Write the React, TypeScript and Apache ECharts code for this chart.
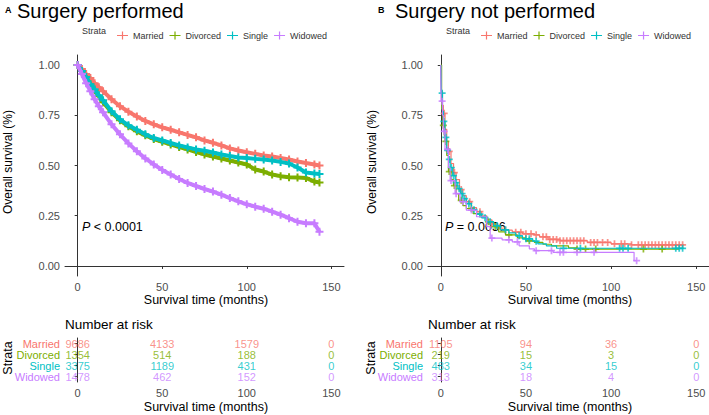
import React, { useEffect, useRef } from 'react';
import * as echarts from 'echarts';

const strata = ['Married', 'Divorced', 'Single', 'Widowed'];
const colors = ['#F8766D', '#7CAE00', '#00BFC4', '#C77CFF'];

// Panel A: surgery performed (survival read every few months)
const monthsA = [0, 2.5, 5, 7.5, 10, 12.5, 15, 20, 25, 30, 35, 40, 45, 50, 55, 60, 65, 70, 75, 80, 85, 90, 95, 100, 105, 110, 115, 120, 125, 130, 135, 140, 143];
const marriedA = [1.0, 0.98, 0.955, 0.935, 0.91, 0.89, 0.87, 0.83, 0.795, 0.768, 0.744, 0.722, 0.705, 0.69, 0.678, 0.665, 0.652, 0.64, 0.625, 0.613, 0.6, 0.585, 0.575, 0.566, 0.558, 0.55, 0.545, 0.537, 0.53, 0.52, 0.512, 0.505, 0.5];
const divorcedA = [1.0, 0.97, 0.94, 0.905, 0.875, 0.845, 0.815, 0.765, 0.725, 0.695, 0.67, 0.65, 0.632, 0.618, 0.605, 0.592, 0.58, 0.567, 0.555, 0.545, 0.535, 0.525, 0.515, 0.505, 0.48, 0.47, 0.455, 0.447, 0.442, 0.44, 0.438, 0.42, 0.415];
const singleA = [1.0, 0.97, 0.94, 0.905, 0.88, 0.85, 0.825, 0.77, 0.73, 0.7, 0.678, 0.655, 0.637, 0.625, 0.612, 0.6, 0.59, 0.58, 0.573, 0.565, 0.555, 0.547, 0.54, 0.537, 0.533, 0.53, 0.525, 0.518, 0.51, 0.49, 0.465, 0.46, 0.458];
const widowedA = [1.0, 0.955, 0.91, 0.87, 0.83, 0.795, 0.765, 0.705, 0.655, 0.61, 0.571, 0.535, 0.505, 0.478, 0.455, 0.433, 0.413, 0.398, 0.383, 0.37, 0.355, 0.338, 0.322, 0.307, 0.295, 0.285, 0.27, 0.255, 0.238, 0.22, 0.213, 0.212, 0.17];

// Panel B: surgery not performed (step points)
const marriedBT = [0, 0.3, 1, 1.5, 2.5, 3.5, 4.5, 6, 7.5, 9, 11, 13, 15, 18, 21, 24, 27, 30, 33, 36, 42, 48, 55, 58, 63, 70, 86, 100, 112, 143];
const marriedBS = [1, 0.87, 0.8, 0.76, 0.68, 0.62, 0.57, 0.51, 0.465, 0.43, 0.38, 0.35, 0.32, 0.29, 0.27, 0.25, 0.23, 0.21, 0.19, 0.178, 0.168, 0.16, 0.155, 0.145, 0.132, 0.126, 0.117, 0.11, 0.105, 0.102];
const divorcedBT = [0, 0.5, 1, 2, 2.5, 3.5, 4.5, 6, 7.5, 9, 10.5, 13, 15, 19, 23, 27, 31, 34, 38, 45, 50, 55, 60, 65, 75, 80, 140];
const divorcedBS = [1, 0.78, 0.7, 0.65, 0.62, 0.55, 0.47, 0.43, 0.4, 0.36, 0.327, 0.3, 0.286, 0.26, 0.245, 0.22, 0.196, 0.17, 0.155, 0.14, 0.125, 0.117, 0.108, 0.1, 0.09, 0.084, 0.084];
const singleBT = [0, 0.3, 1, 1.6, 2.5, 3.5, 4.5, 5.5, 7, 8.5, 10, 11.5, 13, 15, 18, 21, 24, 27, 31, 35, 40, 44, 48, 54, 57, 62, 68, 143];
const singleBS = [1, 0.86, 0.77, 0.72, 0.64, 0.575, 0.53, 0.49, 0.45, 0.415, 0.385, 0.36, 0.335, 0.31, 0.28, 0.258, 0.24, 0.22, 0.2, 0.18, 0.165, 0.15, 0.135, 0.123, 0.11, 0.1, 0.088, 0.088];
const widowedBT = [0, 0.2, 1, 1.5, 2.5, 4.5, 5.5, 8.4, 11.3, 15, 21, 27, 29, 36, 42, 46, 52, 55, 66, 113, 113.5, 115];
const widowedBS = [1, 0.82, 0.75, 0.67, 0.58, 0.49, 0.425, 0.36, 0.32, 0.278, 0.245, 0.196, 0.139, 0.13, 0.12, 0.1, 0.085, 0.076, 0.068, 0.068, 0.026, 0.026];

// Panel B censor times
const marriedBC = [2, 5, 8, 12, 17, 23, 30, 38, 44, 47, 50, 53, 56, 60, 62, 64, 66, 68, 70, 72, 74, 76, 78, 80, 82, 84, 88, 90, 92, 95, 98, 102, 106, 108, 112, 116, 118, 120, 122, 124, 126, 128, 130, 132, 134, 136, 138, 140, 142];
const divorcedBC = [1.5, 3, 5, 8, 12, 18, 28, 32, 40, 52, 80, 85, 91, 119, 130];
const singleBC = [0.8, 1.8, 3, 4, 5, 6.2, 7.5, 9, 10.8, 12.5, 14, 16.5, 19.5, 23, 26, 29, 33, 38, 46, 50, 52, 56, 72, 82, 105, 107, 110, 138, 140, 142];
const widowedBC = [0.8, 2, 4, 6, 9, 13, 18, 30, 40, 45, 56, 65, 70, 72, 80, 90, 115];

// Number at risk
const riskTimes = [0, 50, 100, 150];
const riskA_Married = [9686, 4133, 1579, 0];
const riskA_Divorced = [1354, 514, 188, 0];
const riskA_Single = [3375, 1189, 431, 0];
const riskA_Widowed = [1478, 462, 152, 0];
const riskB_Married = [1105, 94, 36, 0];
const riskB_Divorced = [219, 15, 3, 0];
const riskB_Single = [483, 34, 15, 0];
const riskB_Widowed = [313, 18, 4, 0];

const xTicks = [0, 50, 100, 150];
const yTicks = [0, 0.25, 0.5, 0.75, 1];

const FONT = "'Liberation Sans', Arial, Helvetica, sans-serif";
const PLUS = 'path://M0,3H8V5H0Z M3,0H5V8H3Z';
const LEG = 'path://M0,4.4H11V5.6H0Z M4.9,1H6.1V9H4.9Z';
const AX = '#333333';
const TICKTXT = '#4d4d4d';

function stepAt(ts: number[], ss: number[], t: number) {
  let v = ss[0];
  for (let i = 0; i < ts.length; i++) if (ts[i] <= t) v = ss[i];
  return v;
}

function xAxisCfg(gridIndex: number) {
  return {
    gridIndex, type: 'value', min: -7.5, max: 157.5,
    axisLine: { lineStyle: { color: AX, width: 1 } },
    axisTick: { customValues: xTicks, length: 3, lineStyle: { color: AX } },
    axisLabel: { customValues: xTicks, fontSize: 11, color: TICKTXT, margin: 5, fontFamily: FONT },
    splitLine: { show: false },
  };
}
function yAxisKM(gridIndex: number) {
  return {
    gridIndex, type: 'value', min: -0.05, max: 1.05,
    axisLine: { show: true, lineStyle: { color: AX, width: 1 } },
    axisTick: { show: true, customValues: yTicks, length: 3, lineStyle: { color: AX } },
    axisLabel: { customValues: yTicks, fontSize: 11, color: TICKTXT, margin: 5, fontFamily: FONT, formatter: (v: number) => v.toFixed(2) },
    splitLine: { show: false },
  };
}
function yAxisRisk(gridIndex: number) {
  return {
    gridIndex, type: 'category', data: strata, inverse: true,
    axisLine: { show: true, lineStyle: { color: AX, width: 1 } },
    axisTick: { show: true, alignWithLabel: true, interval: 0, length: 3, lineStyle: { color: AX } },
    axisLabel: { interval: 0, fontSize: 11, margin: 5, fontFamily: FONT, color: (_v: any, i: number) => colors[i] },
    splitLine: { show: false },
  };
}

export default function App() {
  const ref = useRef<HTMLDivElement>(null);
  useEffect(() => {
    if (!ref.current) return;
    const chart = echarts.init(ref.current, null, { renderer: 'svg' });

    const seriesA = [marriedA, divorcedA, singleA, widowedA];
    const seriesBT = [marriedBT, divorcedBT, singleBT, widowedBT];
    const seriesBS = [marriedBS, divorcedBS, singleBS, widowedBS];
    const seriesBC = [marriedBC, divorcedBC, singleBC, widowedBC];
    const riskA = [riskA_Married, riskA_Divorced, riskA_Single, riskA_Widowed];
    const riskB = [riskB_Married, riskB_Divorced, riskB_Single, riskB_Widowed];

    const series: any[] = [];
    strata.forEach((name, i) => {
      series.push({
        name, type: 'line', xAxisIndex: 0, yAxisIndex: 0,
        data: monthsA.map((m, k) => [m, seriesA[i][k]]),
        showSymbol: true, symbol: PLUS, symbolSize: 8,
        lineStyle: { color: colors[i], width: 4 },
        itemStyle: { color: colors[i] },
        z: 2 + i,
      });
    });
    strata.forEach((name, i) => {
      series.push({
        name, type: 'line', xAxisIndex: 1, yAxisIndex: 1, step: 'end',
        data: seriesBT[i].map((t, k) => [t, seriesBS[i][k]]),
        showSymbol: false, symbol: 'none',
        lineStyle: { color: colors[i], width: 1.2 },
        itemStyle: { color: colors[i] },
        z: 2 + i,
      });
      series.push({
        name, type: 'scatter', xAxisIndex: 1, yAxisIndex: 1,
        data: seriesBC[i].map((t) => [t, stepAt(seriesBT[i], seriesBS[i], t)]),
        symbol: PLUS, symbolSize: 7,
        itemStyle: { color: colors[i] },
        z: 2 + i,
      });
    });
    [riskA, riskB].forEach((risk, p) => {
      strata.forEach((name, i) => {
        series.push({
          type: 'scatter', xAxisIndex: 2 + p, yAxisIndex: 2 + p,
          data: riskTimes.map((t, k) => [t, i, risk[i][k]]),
          symbolSize: 1, itemStyle: { color: 'transparent' },
          label: {
            show: true, position: 'inside', fontSize: 11, fontFamily: FONT, color: colors[i],
            formatter: (prm: any) => String(prm.value[2]),
          },
        });
      });
    });

    const legendData = strata.map((n) => ({ name: n, icon: LEG }));
    const txt = (x: number, y: number, text: string, size: number, extra: any = {}) => ({
      type: 'text', x, y, rotation: extra.rotation || 0,
      style: {
        text, fontSize: size, fontFamily: FONT, fill: extra.fill || '#000',
        align: extra.align || 'left', verticalAlign: 'middle', fontWeight: extra.bold ? 'bold' : 'normal',
        rich: extra.rich,
      },
    });

    chart.setOption({
      animation: false,
      textStyle: { fontFamily: FONT },
      grid: [
        { left: 65, top: 55, width: 279, height: 221 },
        { left: 428, top: 55, width: 281, height: 221 },
        { left: 65, top: 338, width: 279, height: 44 },
        { left: 428, top: 338, width: 281, height: 44 },
      ],
      xAxis: [xAxisCfg(0), xAxisCfg(1), xAxisCfg(2), xAxisCfg(3)],
      yAxis: [yAxisKM(0), yAxisKM(1), yAxisRisk(2), yAxisRisk(3)],
      legend: [
        { left: 112, top: 26, itemWidth: 11, itemHeight: 8, itemGap: 6, data: legendData, textStyle: { fontSize: 9, color: '#333', fontFamily: FONT }, selectedMode: false },
        { left: 476, top: 26, itemWidth: 11, itemHeight: 8, itemGap: 6, data: legendData, textStyle: { fontSize: 9, color: '#333', fontFamily: FONT }, selectedMode: false },
      ],
      graphic: [
        txt(5, 10, 'A', 9, { bold: true }),
        txt(17, 11, 'Surgery performed', 20),
        txt(378, 10, 'B', 9, { bold: true }),
        txt(395, 11, 'Surgery not performed', 20),
        txt(82, 31, 'Strata', 9, { fill: '#333' }),
        txt(446, 31, 'Strata', 9, { fill: '#333' }),
        txt(8, 162, 'Overall survival (%)', 12, { align: 'center', rotation: Math.PI / 2 }),
        txt(372, 162, 'Overall survival (%)', 12, { align: 'center', rotation: Math.PI / 2 }),
        txt(206, 300, 'Survival time (months)', 12.5, { align: 'center' }),
        txt(570, 300, 'Survival time (months)', 12.5, { align: 'center' }),
        txt(206, 407, 'Survival time (months)', 12.5, { align: 'center' }),
        txt(570, 407, 'Survival time (months)', 12.5, { align: 'center' }),
        txt(65, 324, 'Number at risk', 13.5),
        txt(428, 324, 'Number at risk', 13.5),
        txt(8, 358, 'Strata', 12.5, { align: 'center', rotation: Math.PI / 2 }),
        txt(371, 358, 'Strata', 12.5, { align: 'center', rotation: Math.PI / 2 }),
        txt(82, 227, '{i|P} < 0.0001', 12.5, { rich: { i: { fontStyle: 'italic', fontSize: 12.5, fontFamily: FONT } } }),
        txt(445, 227, '{i|P} = 0.0036', 12.5, { rich: { i: { fontStyle: 'italic', fontSize: 12.5, fontFamily: FONT } } }),
      ],
      series,
    });
    return () => chart.dispose();
  }, []);
  return <div ref={ref} style={{ position: 'absolute', left: 0, top: 0, width: 709, height: 415, background: '#fff' }} />;
}
